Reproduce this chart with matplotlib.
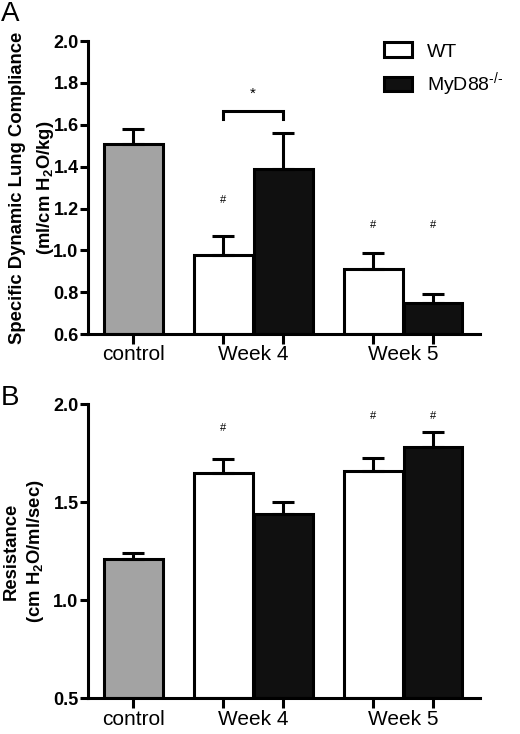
import matplotlib
matplotlib.use("Agg")
import matplotlib.pyplot as plt
from matplotlib.patches import Patch
import numpy as np

plt.rcParams['font.family'] = ['Liberation Sans', 'DejaVu Sans']
plt.rcParams['mathtext.fontset'] = 'custom'
plt.rcParams['mathtext.rm'] = 'Liberation Sans'
plt.rcParams['mathtext.bf'] = 'Liberation Sans:bold'

# data
groups = ['control', 'Week 4', 'Week 5']

compliance = [1.51, 0.98, 1.39, 0.91, 0.75]
compliance_err = [0.07, 0.09, 0.17, 0.08, 0.04]
compliance_hash = [None, 1.24, None, 1.12, 1.12]

resistance = [1.21, 1.65, 1.44, 1.66, 1.78]
resistance_err = [0.03, 0.07, 0.06, 0.065, 0.08]
resistance_hash = [None, 1.88, None, 1.94, 1.94]

pos = np.array([0, 1.5, 2.5, 4, 5])
colors = ['#a3a3a3', 'white', '#101010', 'white', '#101010']
LW = 2.2


def draw_panel(ax, vals, errs, hashes, ylim, yticks):
    ax.bar(pos, np.array(vals) - ylim[0], bottom=ylim[0], width=0.98,
           color=colors, edgecolor='black', linewidth=LW, zorder=2)
    for x, v, e in zip(pos, vals, errs):
        ax.errorbar(x, v, yerr=[[0], [e]], fmt='none', ecolor='black',
                    elinewidth=LW, capsize=8, capthick=LW, zorder=3)
    for x, h in zip(pos, hashes):
        if h is not None:
            ax.text(x, h, '#', ha='center', va='center', fontsize=8)
    ax.set_xlim(-0.75, 5.78)
    ax.set_ylim(*ylim)
    ax.set_yticks(yticks)
    ax.set_yticklabels(['%.1f' % t for t in yticks], fontweight='bold', fontsize=13)
    ax.set_xticks(pos)
    ax.set_xticklabels([])
    for x, g in zip([0, 2.0, 4.5], groups):
        ax.text(x, -0.038, g, transform=ax.get_xaxis_transform(),
                ha='center', va='top', fontsize=15)
    ax.spines['top'].set_visible(False)
    ax.spines['right'].set_visible(False)
    ax.spines['left'].set_linewidth(LW)
    ax.spines['bottom'].set_linewidth(LW)
    ax.tick_params(axis='both', width=LW, length=6, direction='out', pad=1)
    ax.tick_params(axis='x', length=7)


fig = plt.figure(figsize=(5.2, 7.34), dpi=100)
ax1 = fig.add_axes([0.1698, 0.5446, 0.753, 0.3995])
ax2 = fig.add_axes([0.1698, 0.0486, 0.753, 0.4006])

draw_panel(ax1, compliance, compliance_err, compliance_hash,
           (0.6, 2.0), [0.6, 0.8, 1.0, 1.2, 1.4, 1.6, 1.8, 2.0])
draw_panel(ax2, resistance, resistance_err, resistance_hash,
           (0.5, 2.0), [0.5, 1.0, 1.5, 2.0])

# significance bracket, week 4
ax1.plot([pos[1], pos[1], pos[2], pos[2]], [1.63, 1.666, 1.666, 1.63],
         color='black', lw=LW, solid_joinstyle='miter')
ax1.text((pos[1] + pos[2]) / 2, 1.75, '*', ha='center', va='center', fontsize=11)

# legend
handles = [Patch(facecolor='white', edgecolor='black', linewidth=LW),
           Patch(facecolor='#101010', edgecolor='black', linewidth=LW)]
ax1.legend(handles, ['WT', r'MyD88$^{\text{-/-}}$'], loc='upper left',
           bbox_to_anchor=(0.755, 0.995), frameon=False, fontsize=14,
           handlelength=1.44, handleheight=0.77, handletextpad=0.75,
           labelspacing=0.5, borderaxespad=0, borderpad=0)

fig.text(0.033, 0.5446 + 0.3995 / 2, 'Specific Dynamic Lung Compliance',
         rotation=90, ha='center', va='center', fontsize=13.3, fontweight='bold')
fig.text(0.087, 0.5446 + 0.3995 / 2, r'(ml/cm H$_\mathbf{2}$O/kg)',
         rotation=90, ha='center', va='center', fontsize=13.3, fontweight='bold')
fig.text(0.021, 0.0486 + 0.4006 / 2, 'Resistance',
         rotation=90, ha='center', va='center', fontsize=13.3, fontweight='bold')
fig.text(0.068, 0.0486 + 0.4006 / 2, r'(cm H$_\mathbf{2}$O/ml/sec)',
         rotation=90, ha='center', va='center', fontsize=13.3, fontweight='bold')

fig.text(0.002, 0.998, 'A', ha='left', va='top', fontsize=20)
fig.text(0.002, 0.475, 'B', ha='left', va='top', fontsize=20)

fig.savefig('out.png', dpi=100)
